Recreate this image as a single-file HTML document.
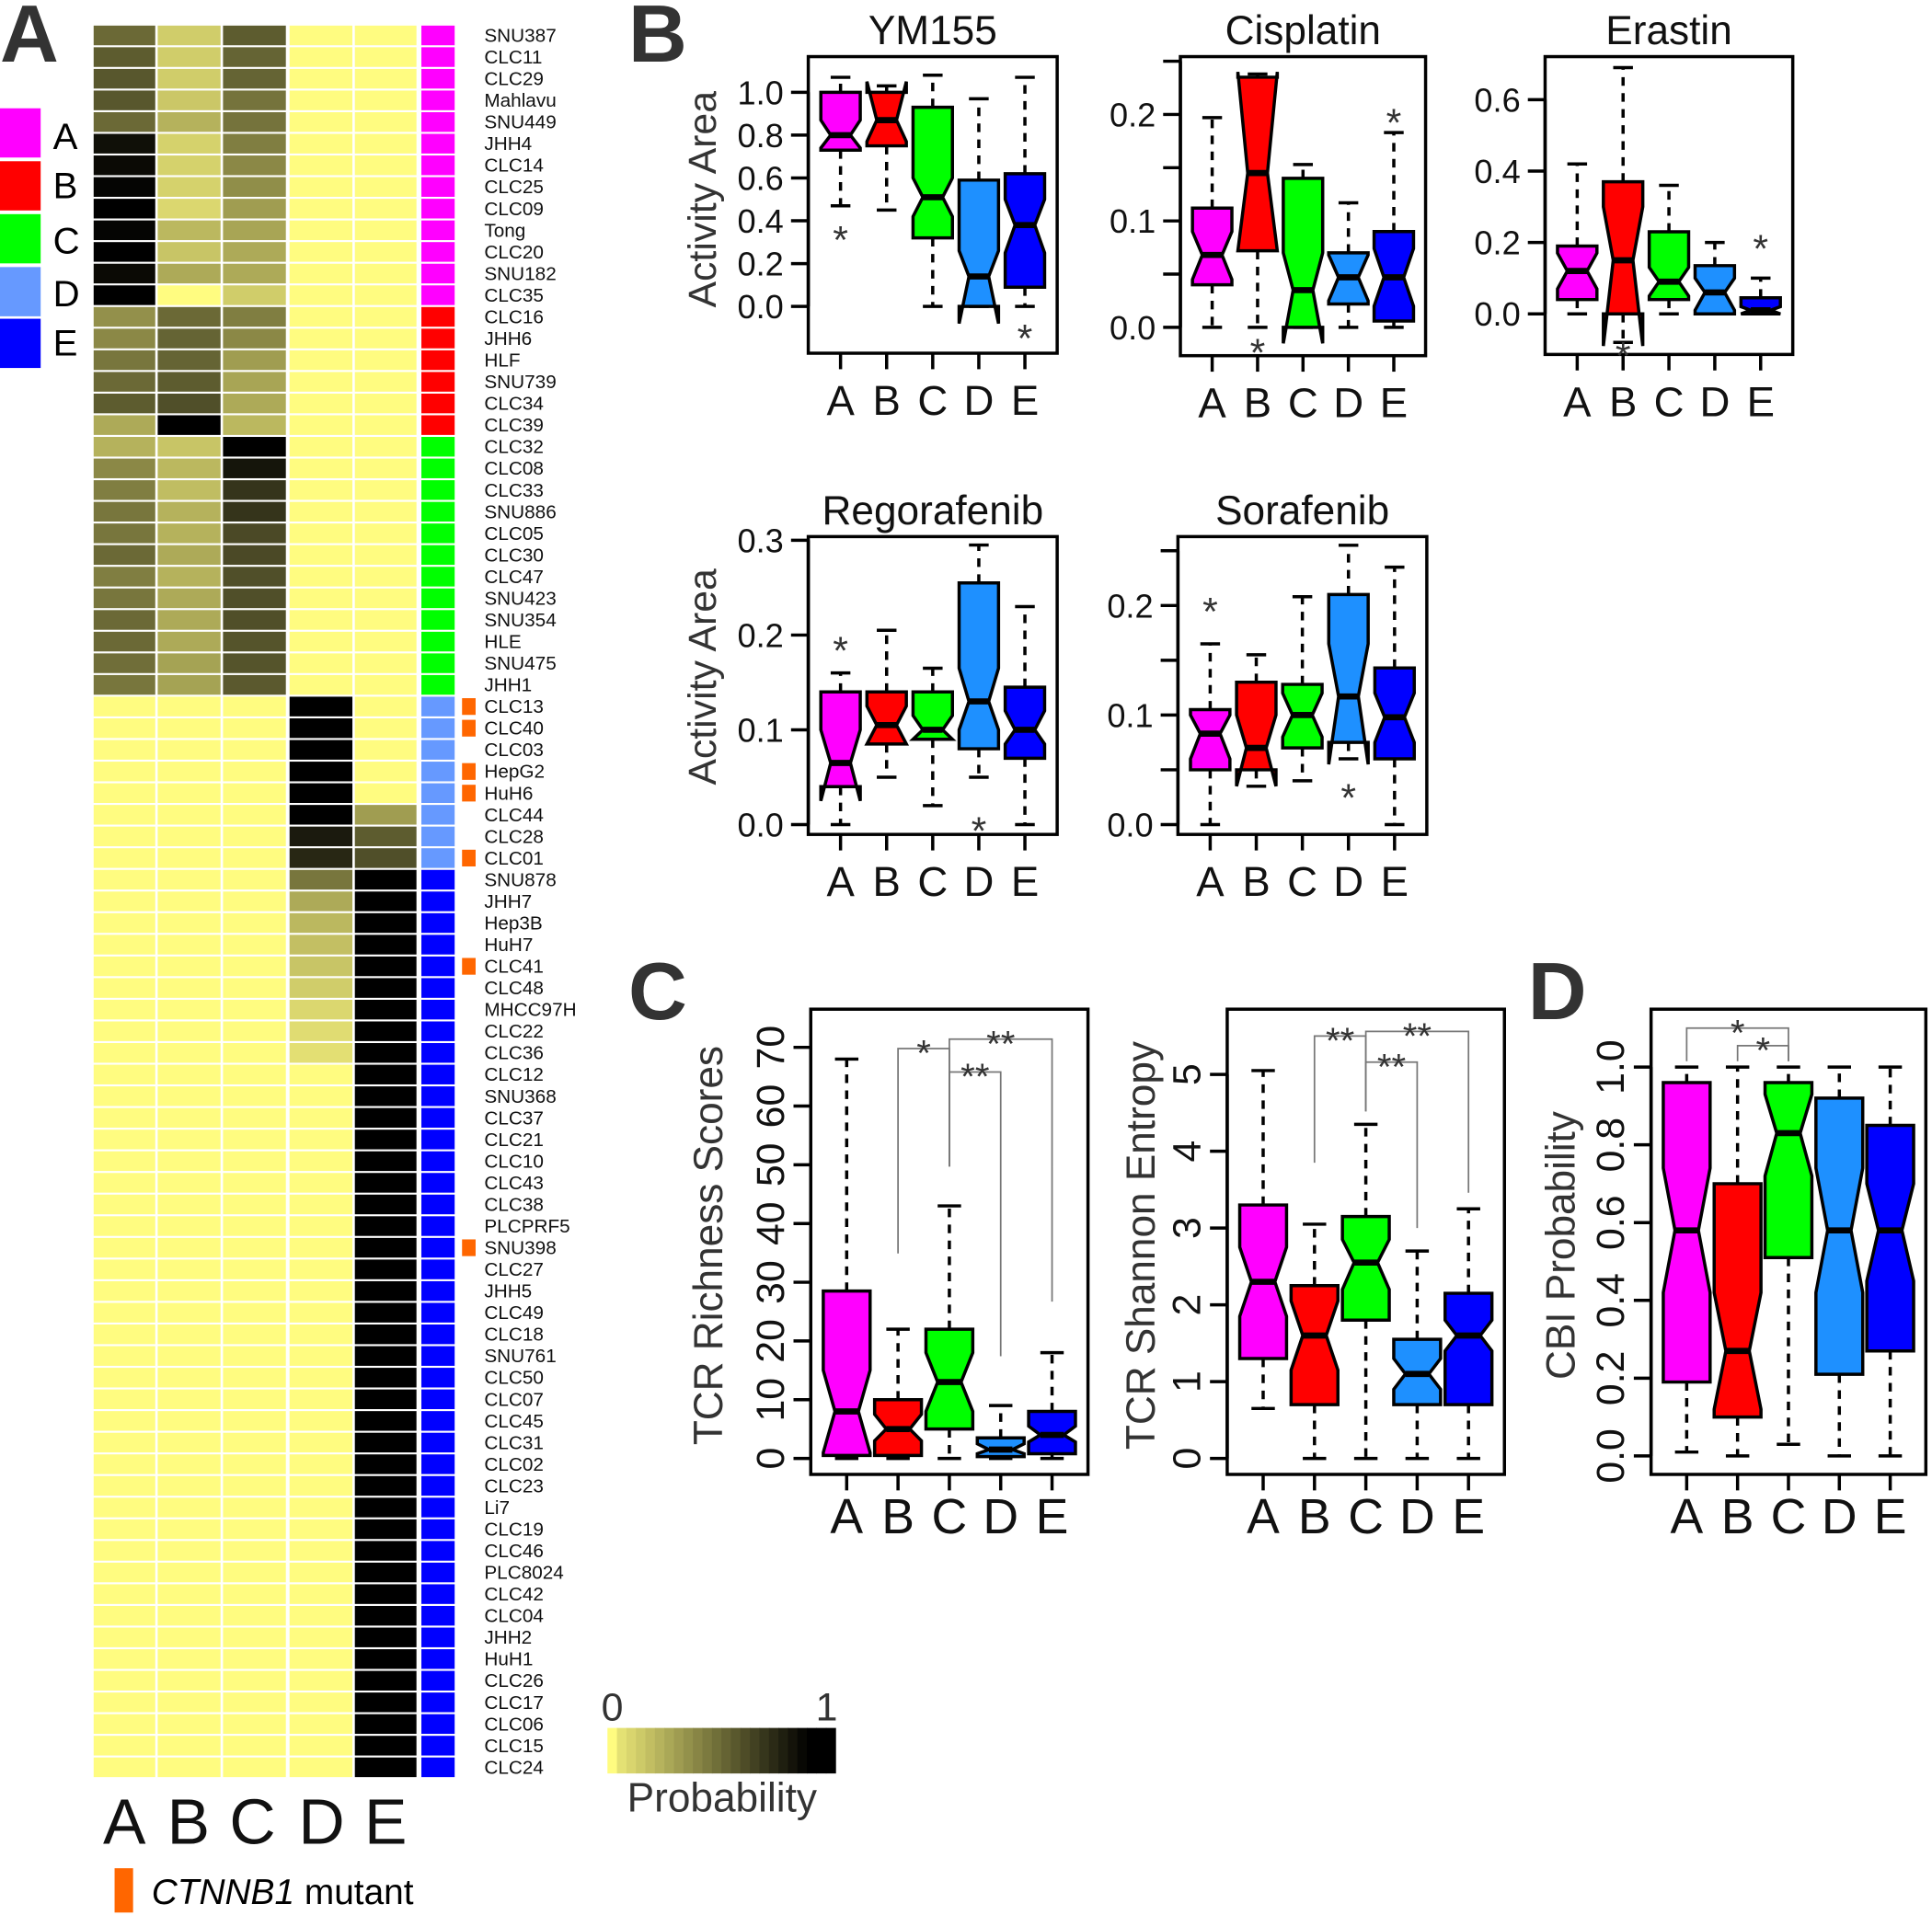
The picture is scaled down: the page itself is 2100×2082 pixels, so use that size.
<!DOCTYPE html>
<html><head><meta charset="utf-8"><style>
html,body{margin:0;padding:0;background:#fff;}
svg{display:block;font-family:"Liberation Sans",Arial,sans-serif;}
</style></head><body>
<svg id="fig" xmlns="http://www.w3.org/2000/svg" width="2100" height="2082" viewBox="0 0 1568 1556" preserveAspectRatio="none">
<rect x="0" y="0" width="1568" height="1556" fill="#fff"/>
<g font-weight="bold" font-size="66" fill="#333">
<text x="0" y="50">A</text>
<text x="510" y="50">B</text>
<text x="510" y="828">C</text>
<text x="1240" y="828">D</text>
</g>
<g font-size="30">
<rect x="0" y="88" width="33" height="40" fill="#ff00ff"/>
<text x="43" y="121">A</text>
<rect x="0" y="131" width="33" height="40" fill="#ff0000"/>
<text x="43" y="161">B</text>
<rect x="0" y="174" width="33" height="40" fill="#00ff00"/>
<text x="43" y="206">C</text>
<rect x="0" y="217" width="33" height="40" fill="#6699ff"/>
<text x="43" y="249">D</text>
<rect x="0" y="259" width="33" height="40" fill="#0000ff"/>
<text x="43" y="289">E</text>
</g>
<g font-size="52" fill="#111" text-anchor="middle">
<text x="101" y="1498">A</text>
<text x="153" y="1498">B</text>
<text x="205" y="1498">C</text>
<text x="261" y="1498">D</text>
<text x="313" y="1498">E</text>
</g>
<g>
<rect x="93" y="1518" width="15" height="36" fill="#ff6600"/>
<text x="123" y="1547" font-size="29"><tspan font-style="italic">CTNNB1</tspan> mutant</text>
</g>
<g id="colorbar">
<text x="488" y="1398" font-size="32" fill="#333">0</text>
<text x="662" y="1398" font-size="32" fill="#333">1</text>
<text x="586" y="1472" font-size="33" fill="#333" text-anchor="middle">Probability</text>
</g>
</svg>
<script>
const NS='http://www.w3.org/2000/svg';
const svg=document.getElementById('fig');
function mk(tag,attrs,parent){const e=document.createElementNS(NS,tag);for(const k in attrs)e.setAttribute(k,attrs[k]);(parent||svg).appendChild(e);return e;}

// ---------------- Heatmap data ----------------
const cellLines=["SNU387","CLC11","CLC29","Mahlavu","SNU449","JHH4","CLC14","CLC25","CLC09","Tong","CLC20","SNU182","CLC35",
"CLC16","JHH6","HLF","SNU739","CLC34","CLC39",
"CLC32","CLC08","CLC33","SNU886","CLC05","CLC30","CLC47","SNU423","SNU354","HLE","SNU475","JHH1",
"CLC13","CLC40","CLC03","HepG2","HuH6","CLC44","CLC28","CLC01",
"SNU878","JHH7","Hep3B","HuH7","CLC41","CLC48","MHCC97H","CLC22","CLC36","CLC12","SNU368","CLC37","CLC21","CLC10","CLC43","CLC38","PLCPRF5","SNU398","CLC27","JHH5","CLC49","CLC18","SNU761","CLC50","CLC07","CLC45","CLC31","CLC02","CLC23","Li7","CLC19","CLC46","PLC8024","CLC42","CLC04","JHH2","HuH1","CLC26","CLC17","CLC06","CLC15","CLC24"];
const subtypes=["A","A","A","A","A","A","A","A","A","A","A","A","A","B","B","B","B","B","B","C","C","C","C","C","C","C","C","C","C","C","C","D","D","D","D","D","D","D","D",
"E","E","E","E","E","E","E","E","E","E","E","E","E","E","E","E","E","E","E","E","E","E","E","E","E","E","E","E","E","E","E","E","E","E","E","E","E","E","E","E","E","E"];
const mutant=[0,0,0,0,0,0,0,0,0,0,0,0,0,0,0,0,0,0,0,0,0,0,0,0,0,0,0,0,0,0,0,1,1,0,1,1,0,0,1,0,0,0,0,1,0,0,0,0,0,0,0,0,0,0,0,0,1,0,0,0,0,0,0,0,0,0,0,0,0,0,0,0,0,0,0,0,0,0,0,0,0];
const probA=[0.5,0.55,0.57,0.57,0.5,0.84,0.86,0.88,1.0,0.88,0.93,0.86,1.0,
0.35,0.38,0.45,0.5,0.55,0.25,
0.22,0.38,0.42,0.45,0.45,0.5,0.42,0.45,0.5,0.5,0.48,0.45,
0.02,0.02,0.02,0.02,0.02,0.02,0.02,0.02,
0.02,0.02,0.02,0.02,0.02,0.02,0.02,0.02,0.02,0.02,0.02,0.02,0.02,0.02,0.02,0.02,0.02,0.02,0.02,0.02,0.02,0.02,0.02,0.02,0.02,0.02,0.02,0.02,0.02,0.02,0.02,0.02,0.02,0.02,0.02,0.02,0.02,0.02,0.02,0.02,0.02,0.02];
const probB=[0.12,0.12,0.12,0.14,0.22,0.1,0.1,0.1,0.08,0.2,0.15,0.25,0.02,
0.5,0.52,0.52,0.55,0.6,1.0,
0.15,0.2,0.18,0.22,0.22,0.25,0.22,0.25,0.25,0.25,0.28,0.28,
0.02,0.02,0.02,0.02,0.02,0.02,0.02,0.02,
0.02,0.02,0.02,0.02,0.02,0.02,0.02,0.02,0.02,0.02,0.02,0.02,0.02,0.02,0.02,0.02,0.02,0.02,0.02,0.02,0.02,0.02,0.02,0.02,0.02,0.02,0.02,0.02,0.02,0.02,0.02,0.02,0.02,0.02,0.02,0.02,0.02,0.02,0.02,0.02,0.02,0.02];
const probC=[0.55,0.52,0.52,0.46,0.46,0.42,0.38,0.36,0.3,0.27,0.25,0.25,0.12,
0.42,0.38,0.3,0.27,0.25,0.2,
1.0,0.82,0.7,0.7,0.62,0.62,0.6,0.6,0.6,0.58,0.58,0.56,
0.02,0.02,0.02,0.02,0.02,0.02,0.02,0.02,
0.02,0.02,0.02,0.02,0.02,0.02,0.02,0.02,0.02,0.02,0.02,0.02,0.02,0.02,0.02,0.02,0.02,0.02,0.02,0.02,0.02,0.02,0.02,0.02,0.02,0.02,0.02,0.02,0.02,0.02,0.02,0.02,0.02,0.02,0.02,0.02,0.02,0.02,0.02,0.02,0.02,0.02];
const probD=[0.02,0.02,0.02,0.02,0.02,0.02,0.02,0.02,0.02,0.02,0.02,0.02,0.02,
0.02,0.02,0.02,0.02,0.02,0.02,
0.02,0.02,0.02,0.02,0.02,0.02,0.02,0.02,0.02,0.02,0.02,0.02,
1.0,1.0,1.0,1.0,1.0,1.0,0.8,0.75,
0.45,0.25,0.2,0.17,0.15,0.12,0.08,0.06,0.05,0.02,0.02,0.02,0.02,0.02,0.02,0.02,0.02,0.02,0.02,0.02,0.02,0.02,0.02,0.02,0.02,0.02,0.02,0.02,0.02,0.02,0.02,0.02,0.02,0.02,0.02,0.02,0.02,0.02,0.02,0.02,0.02,0.02];
const probE=[0.02,0.02,0.02,0.02,0.02,0.02,0.02,0.02,0.02,0.02,0.02,0.02,0.02,
0.02,0.02,0.02,0.02,0.02,0.02,
0.02,0.02,0.02,0.02,0.02,0.02,0.02,0.02,0.02,0.02,0.02,0.02,
0.02,0.02,0.02,0.02,0.02,0.3,0.55,0.6,
0.9,1,1,1,1,1,1,1,1,1,1,1,1,1,1,1,1,1,1,1,1,1,1,1,1,1,1,1,1,1,1,1,1,1,1,1,1,1,1,1,1,1];
const subtypeColors={A:"#ff00ff",B:"#ff0000",C:"#00ff00",D:"#6699ff",E:"#0000ff"};

function probColor(v){
  if(v<0.04) return 'rgb(255,252,128)';
  const t=Math.min(1,v/0.9);
  return 'rgb('+Math.round(240*(1-t))+','+Math.round(236*(1-t))+','+Math.round(122*(1-t))+')';
}
const hm=mk('g',{});


const colX=[76,128,181,235,288];
const colW=[50,51,51,51,50];
const cols=[probA,probB,probC,probD,probE];
const colNames=['a','b','c','d','e'];
const rowTop=20, rowH=17.59;
cellLines.forEach((name,i)=>{
  const y=rowTop+i*rowH;
  cols.forEach((arr,j)=>{
    const r=mk('rect',{x:colX[j],y:y+0.8,width:colW[j],height:rowH-1.6,fill:probColor(arr[i])},hm);
    
    
  });
  const c=mk('rect',{x:342,y:y+0.8,width:27,height:rowH-1.6,fill:subtypeColors[subtypes[i]]},hm);
  
  
  if(mutant[i]){
    const m=mk('rect',{x:375,y:y+2,width:11,height:rowH-4,fill:'#ff6600'},hm);
    
    
  }
  const t=mk('text',{x:393,y:y+14,'font-size':15.5,fill:'#111'},hm);
  t.textContent=name;
  
  
});
const cb=document.getElementById('colorbar');
for(let k=0;k<24;k++){
  const r=mk('rect',{x:493+k*185/24,y:1404,width:185/24+0.5,height:37,fill:probColor(k/23)},cb);
  
  
}

// ---------------- Boxplot data ----------------
const groups=["A","B","C","D","E"];
const boxColors=["#ff00ff","#ff0000","#00ff00","#1e90ff","#0000ff"];

const ym155_lo=[0.47,0.45,0.0,0.0,0.0], ym155_q1=[0.73,0.75,0.32,0.0,0.09], ym155_med=[0.8,0.87,0.51,0.14,0.38], ym155_q3=[1.0,1.0,0.93,0.59,0.62], ym155_hi=[1.07,1.03,1.08,0.97,1.07], ym155_nlo=[0.74,0.77,0.42,-0.08,0.25], ym155_nhi=[0.87,1.05,0.6,0.26,0.5];
const ym155_out=[[0,0.34],[4,-0.12]];
const cis_lo=[0,0,0,0,0], cis_q1=[0.04,0.072,0.0,0.022,0.006], cis_med=[0.068,0.145,0.035,0.047,0.047], cis_q3=[0.112,0.235,0.14,0.07,0.09], cis_hi=[0.197,0.238,0.153,0.117,0.183], cis_nlo=[0.045,0.072,-0.015,0.025,0.02], cis_nhi=[0.09,0.24,0.07,0.068,0.074];
const cis_out=[[1,-0.018],[4,0.198]];
const era_lo=[0,-0.08,0,0,0], era_q1=[0.04,0.0,0.04,0.0,0.0], era_med=[0.12,0.15,0.09,0.06,0.01], era_q3=[0.19,0.37,0.23,0.135,0.045], era_hi=[0.42,0.69,0.36,0.2,0.1], era_nlo=[0.07,-0.09,0.05,0.01,0.0], era_nhi=[0.17,0.3,0.13,0.1,0.02];
const era_out=[[1,-0.1],[4,0.2]];
const rego_lo=[0,0.05,0.02,0.05,0], rego_q1=[0.04,0.085,0.09,0.08,0.07], rego_med=[0.065,0.105,0.1,0.13,0.1], rego_q3=[0.14,0.14,0.14,0.255,0.145], rego_hi=[0.16,0.205,0.165,0.295,0.23], rego_nlo=[0.025,0.085,0.09,0.1,0.085], rego_nhi=[0.1,0.125,0.115,0.165,0.12];
const rego_out=[[0,0.19],[3,0.0]];
const sora_lo=[0,0.035,0.04,0.06,0], sora_q1=[0.05,0.05,0.07,0.075,0.06], sora_med=[0.083,0.07,0.1,0.117,0.098], sora_q3=[0.105,0.13,0.128,0.21,0.143], sora_hi=[0.165,0.155,0.208,0.255,0.235], sora_nlo=[0.06,0.035,0.08,0.055,0.075], sora_nhi=[0.1,0.1,0.12,0.165,0.12];
const sora_out=[[0,0.2],[3,0.03]];
const rich_lo=[0,0,0,0,0], rich_q1=[0.5,0.5,5,0.3,0.8], rich_med=[8,5,13,1.5,4], rich_q3=[28.5,10,22,3.5,8], rich_hi=[68,22,43,9,18], rich_nlo=[1,3,8,0.8,2.8], rich_nhi=[15,7.5,18,2.5,5.5];
const shan_lo=[0.65,0,0,0,0], shan_q1=[1.3,0.7,1.8,0.7,0.7], shan_med=[2.3,1.6,2.55,1.1,1.6], shan_q3=[3.3,2.25,3.15,1.55,2.15], shan_hi=[5.05,3.05,4.35,2.7,3.25], shan_nlo=[1.85,1.15,2.2,0.9,1.4], shan_nhi=[2.75,2.05,2.85,1.3,1.8];
const cbi_lo=[0.01,0,0.03,0,0], cbi_q1=[0.19,0.1,0.51,0.21,0.27], cbi_med=[0.58,0.27,0.83,0.58,0.58], cbi_q3=[0.96,0.7,0.96,0.92,0.85], cbi_hi=[1,1,1,1,1], cbi_nlo=[0.42,0.12,0.72,0.42,0.45], cbi_nhi=[0.74,0.42,0.93,0.74,0.7];
const rich_sig=[[1,2,69.8,34.9,49.7,"*"],[2,4,71.4,49.7,26.7,"**"],[2,3,65.8,49.7,17.4,"**"]];
const shan_sig=[[1,2,5.5,3.85,4.52,"**"],[2,4,5.56,4.52,3.46,"**"],[2,3,5.16,4.52,3.0,"**"]];
const cbi_sig=[[0,2,1.1,1.015,1.015,"*"],[1,2,1.055,1.015,1.015,"*"]];

const yTicksYM=[0,0.2,0.4,0.6,0.8,1.0], yLabYM=["0.0","0.2","0.4","0.6","0.8","1.0"];
const yTicksCis=[0,0.05,0.1,0.15,0.2,0.25], yLabCis=["0.0","","0.1","","0.2",""];
const yTicksEra=[0,0.2,0.4,0.6], yLabEra=["0.0","0.2","0.4","0.6"];
const yTicksRego=[0,0.1,0.2,0.3], yLabRego=["0.0","0.1","0.2","0.3"];
const yTicksSora=[0,0.05,0.1,0.15,0.2,0.25], yLabSora=["0.0","","0.1","","0.2",""];
const yTicksRich=[0,10,20,30,40,50,60,70], yLabRich=["0","10","20","30","40","50","60","70"];
const yTicksShan=[0,1,2,3,4,5], yLabShan=["0","1","2","3","4","5"];
const yTicksCbi=[0,0.2,0.4,0.6,0.8,1.0], yLabCbi=["0.0","0.2","0.4","0.6","0.8","1.0"];

function panel(cfg,lo,q1,med,q3,hi,nlo,nhi,outs,ticks,labs,sig){
  const g=mk('g',{});
  
  
  const W=cfg.r-cfg.l;
  const cx=i=>cfg.l+(i+0.7)*W/5.4;
  const sy=v=>cfg.p0+(v-cfg.v0)*(cfg.p1-cfg.p0)/(cfg.v1-cfg.v0);
  const fr=mk('rect',{x:cfg.l,y:cfg.t,width:W,height:cfg.b-cfg.t,fill:'none',stroke:'#000','stroke-width':2.6},g);
  
  
  if(cfg.title){const t=mk('text',{x:(cfg.l+cfg.r)/2,y:cfg.t-10,'font-size':33,'text-anchor':'middle',fill:'#111'},g);t.textContent=cfg.title;
    
    }
  const ya=mk('g',{},g);
  
  
  mk('line',{x1:cfg.l,x2:cfg.l,y1:sy(ticks[0]),y2:sy(ticks[ticks.length-1]),stroke:'#000','stroke-width':2.6},ya);
  ticks.forEach((v,k)=>{
    mk('line',{x1:cfg.l-14,x2:cfg.l,y1:sy(v),y2:sy(v),stroke:'#000','stroke-width':2.6},ya);
    if(labs[k]!==''){
      let t;
      if(cfg.rot){t=mk('text',{x:0,y:0,'font-size':cfg.tfs,'text-anchor':'middle',fill:'#111',transform:'translate('+(cfg.l-22)+','+sy(v)+') rotate(-90)'},ya);}
      else{t=mk('text',{x:cfg.l-20,y:sy(v)+cfg.tfs*0.36,'font-size':cfg.tfs,'text-anchor':'end',fill:'#111'},ya);}
      t.textContent=labs[k];
      
      
    }
  });
  if(cfg.ytitle){const t=mk('text',{x:0,y:0,'font-size':cfg.yfs,'text-anchor':'middle',fill:'#333',transform:'translate('+cfg.ytx+','+cfg.yty+') rotate(-90)'},g);t.textContent=cfg.ytitle;
    
    }
  groups.forEach((gname,i)=>{
    const tk=mk('line',{x1:cx(i),x2:cx(i),y1:cfg.b,y2:cfg.b+13,stroke:'#000','stroke-width':2.6},g);
    
    
    const t=mk('text',{x:cx(i),y:cfg.b+cfg.xly,'font-size':cfg.xfs,'text-anchor':'middle',fill:'#111'},g);
    t.textContent=gname;
    
    
  });
  groups.forEach((gname,i)=>{
    const x=cx(i), w=cfg.bw/2, sw=2.6;
    const bg=mk('g',{},g);
    
    
    mk('line',{x1:x,x2:x,y1:sy(q3[i]),y2:sy(hi[i]),stroke:'#000','stroke-width':sw,'stroke-dasharray':'7,6'},bg);
    mk('line',{x1:x,x2:x,y1:sy(q1[i]),y2:sy(lo[i]),stroke:'#000','stroke-width':sw,'stroke-dasharray':'7,6'},bg);
    mk('line',{x1:x-w*0.5,x2:x+w*0.5,y1:sy(hi[i]),y2:sy(hi[i]),stroke:'#000','stroke-width':sw},bg);
    mk('line',{x1:x-w*0.5,x2:x+w*0.5,y1:sy(lo[i]),y2:sy(lo[i]),stroke:'#000','stroke-width':sw},bg);
    const pts=[[x-w,sy(q1[i])],[x-w,sy(nlo[i])],[x-w*0.5,sy(med[i])],[x-w,sy(nhi[i])],[x-w,sy(q3[i])],[x+w,sy(q3[i])],[x+w,sy(nhi[i])],[x+w*0.5,sy(med[i])],[x+w,sy(nlo[i])],[x+w,sy(q1[i])]];
    mk('polygon',{points:pts.map(p=>p.join(',')).join(' '),fill:boxColors[i],stroke:'#000','stroke-width':sw,'stroke-linejoin':'miter'},bg);
    mk('line',{x1:x-w*0.5,x2:x+w*0.5,y1:sy(med[i]),y2:sy(med[i]),stroke:'#000','stroke-width':5},bg);
  });
  (outs||[]).forEach(o=>{
    const t=mk('text',{x:cx(o[0]),y:sy(o[1])+16,'font-size':32,'text-anchor':'middle',fill:'#333'},g);
    t.textContent='*';
    
    
  });
  (sig||[]).forEach(s=>{
    const x1=cx(s[0]), x2=cx(s[1]), yl=sy(s[2]);
    const p=mk('polyline',{points:x1+','+sy(s[3])+' '+x1+','+yl+' '+x2+','+yl+' '+x2+','+sy(s[4]),fill:'none',stroke:'#777','stroke-width':1.3},g);
    
    
    const t=mk('text',{x:(x1+x2)/2,y:yl+14,'font-size':30,'text-anchor':'middle',fill:'#333'},g);
    t.textContent=s[5];
    
    
  });
}
const bB={tfs:27,xfs:34,xly:50,bw:32,yfs:32};
panel(Object.assign({name:'ym155-plot',title:'YM155',l:656,r:858,t:46,b:287,p0:249,v0:0,p1:75,v1:1,ytitle:'Activity Area',ytx:581,yty:162},bB),ym155_lo,ym155_q1,ym155_med,ym155_q3,ym155_hi,ym155_nlo,ym155_nhi,ym155_out,yTicksYM,yLabYM);
panel(Object.assign({name:'cisplatin-plot',title:'Cisplatin',l:958,r:1157,t:46,b:289,p0:266,v0:0,p1:93,v1:0.2},bB),cis_lo,cis_q1,cis_med,cis_q3,cis_hi,cis_nlo,cis_nhi,cis_out,yTicksCis,yLabCis);
panel(Object.assign({name:'erastin-plot',title:'Erastin',l:1254,r:1455,t:46,b:288,p0:255,v0:0,p1:81,v1:0.6},bB),era_lo,era_q1,era_med,era_q3,era_hi,era_nlo,era_nhi,era_out,yTicksEra,yLabEra);
panel(Object.assign({name:'regorafenib-plot',title:'Regorafenib',l:656,r:858,t:436,b:678,p0:670,v0:0,p1:593,v1:0.1,ytitle:'Activity Area',ytx:581,yty:550},bB),rego_lo,rego_q1,rego_med,rego_q3,rego_hi,rego_nlo,rego_nhi,rego_out,yTicksRego,yLabRego);
panel(Object.assign({name:'sorafenib-plot',title:'Sorafenib',l:956,r:1158,t:436,b:678,p0:670,v0:0,p1:581,v1:0.1},bB),sora_lo,sora_q1,sora_med,sora_q3,sora_hi,sora_nlo,sora_nhi,sora_out,yTicksSora,yLabSora);
const cC={tfs:32,xfs:40,xly:48,bw:38,rot:true,yfs:33};
panel(Object.assign({name:'tcr-richness-plot',l:658,r:883,t:820,b:1198,p0:1185,v0:0,p1:851,v1:70,ytitle:'TCR Richness Scores',ytx:586,yty:1012},cC),rich_lo,rich_q1,rich_med,rich_q3,rich_hi,rich_nlo,rich_nhi,[],yTicksRich,yLabRich,rich_sig);
panel(Object.assign({name:'tcr-shannon-plot',l:996,r:1221,t:820,b:1198,p0:1185,v0:0,p1:873,v1:5,ytitle:'TCR Shannon Entropy',ytx:937,yty:1012},cC),shan_lo,shan_q1,shan_med,shan_q3,shan_hi,shan_nlo,shan_nhi,[],yTicksShan,yLabShan,shan_sig);
panel(Object.assign({name:'cbi-probability-plot',l:1340,r:1563,t:820,b:1198,p0:1183,v0:0,p1:867,v1:1,ytitle:'CBI Probability',ytx:1278,yty:1012},cC),cbi_lo,cbi_q1,cbi_med,cbi_q3,cbi_hi,cbi_nlo,cbi_nhi,[],yTicksCbi,yLabCbi,cbi_sig);
</script>
</body></html>
